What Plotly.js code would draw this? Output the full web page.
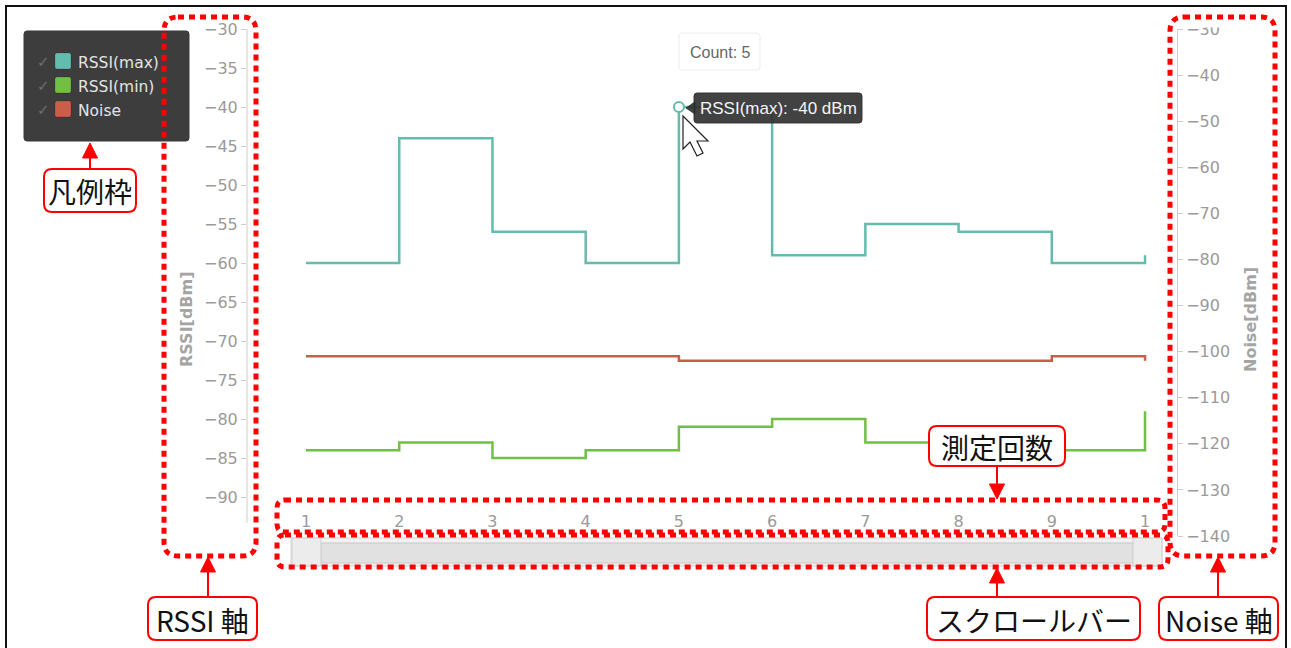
<!DOCTYPE html>
<html>
<head>
<meta charset="utf-8">
<script src="https://cdn.plot.ly/plotly-3.0.1.min.js"></script>
<style>
  html, body { margin: 0; padding: 0; background: #ffffff; }
  #chart { width: 1291px; height: 648px; }
</style>
</head>
<body>
<div id="chart"></div>
<script>
// ---------------- data ----------------
const counts     = [1, 2, 3, 4, 5, 6, 7, 8, 9, 10];
const tickLabels = ['1', '2', '3', '4', '5', '6', '7', '8', '9', '1'];
const rssiMax    = [-60, -44, -56, -60, -40, -59, -55, -56, -60, -59];
const rssiMin    = [-84, -83, -85, -84, -81, -80, -83, -84, -84, -79];
const noise      = [-101, -101, -101, -101, -102, -102, -102, -102, -101, -102];
const rssiTicks  = [-30, -35, -40, -45, -50, -55, -60, -65, -70, -75, -80, -85, -90];
const noiseTicks = [-30, -40, -50, -60, -70, -80, -90, -100, -110, -120, -130, -140];
const seriesNames = ['RSSI(max)', 'RSSI(min)', 'Noise'];
const hoverIndex = 4;
const callouts = ['凡例枠', 'RSSI 軸', '測定回数', 'スクロールバー', 'Noise 軸'];

// ---------------- style ----------------
const colors = ['#64bcae', '#72bf45', '#cc5d48'];
const W = 1291, H = 648;
const L = 247, R = 1177, T = 29, B = 536;
const px = x => (x - L) / (R - L);
const py = y => (B - y) / (B - T);
const P = (x, y) => px(x).toFixed(5) + ',' + py(y).toFixed(5);
function rr(x0, y0, x1, y1, r) {
  return `M${P(x0 + r, y0)} L${P(x1 - r, y0)} Q${P(x1, y0)} ${P(x1, y0 + r)} ` +
         `L${P(x1, y1 - r)} Q${P(x1, y1)} ${P(x1 - r, y1)} L${P(x0 + r, y1)} ` +
         `Q${P(x0, y1)} ${P(x0, y1 - r)} L${P(x0, y0 + r)} Q${P(x0, y0)} ${P(x0 + r, y0)} Z`;
}
function poly(pts) {
  return 'M' + pts.map(p => P(p[0], p[1])).join(' L') + ' Z';
}
function pathShape(path, fill, lineColor, lineWidth, dash) {
  return { type: 'path', xref: 'paper', yref: 'paper', layer: 'above', path: path,
           fillcolor: fill, line: { color: lineColor, width: lineWidth, dash: dash || 'solid' } };
}
function lineShape(x0, y0, x1, y1, color, width) {
  return { type: 'line', xref: 'paper', yref: 'paper', layer: 'above',
           x0: px(x0), y0: py(y0), x1: px(x1), y1: py(y1), line: { color: color, width: width } };
}
function rectShape(x0, y0, x1, y1, fill, lineColor, lineWidth) {
  return { type: 'rect', xref: 'paper', yref: 'paper', layer: 'above',
           x0: px(x0), y0: py(y0), x1: px(x1), y1: py(y1), fillcolor: fill,
           line: { color: lineColor, width: lineWidth } };
}
function ann(x, y, text, font, extra) {
  return Object.assign({ xref: 'paper', yref: 'paper', x: px(x), y: py(y), text: text,
    showarrow: false, xanchor: 'center', yanchor: 'middle', font: font }, extra || {});
}

// ---------------- traces ----------------
const traces = [
  { x: counts, y: rssiMax, xaxis: 'x2', yaxis: 'y2', mode: 'lines', name: seriesNames[0],
    line: { shape: 'hv', color: colors[0], width: 2.5 }, showlegend: false, hoverinfo: 'skip' },
  { x: counts, y: rssiMin, xaxis: 'x2', yaxis: 'y2', mode: 'lines', name: seriesNames[1],
    line: { shape: 'hv', color: colors[1], width: 2.5 }, showlegend: false, hoverinfo: 'skip' },
  { x: counts, y: noise, xaxis: 'x2', yaxis: 'y3', mode: 'lines', name: seriesNames[2],
    line: { shape: 'hv', color: colors[2], width: 2.5 }, showlegend: false, hoverinfo: 'skip' },
  { x: [counts[hoverIndex]], y: [rssiMax[hoverIndex]], xaxis: 'x2', yaxis: 'y2', mode: 'markers',
    marker: { symbol: 'circle', size: 10, color: '#ffffff', line: { color: colors[0], width: 2 } },
    showlegend: false, hoverinfo: 'skip' }
];

// ---------------- shapes ----------------
const shapes = [];
// left RSSI axis line
shapes.push({ type: 'line', xref: 'paper', yref: 'y2', x0: 0, x1: 0, y0: -30, y1: -93.3,
              line: { color: '#cccccc', width: 1 } });
// mask hiding top of the clipped right-axis label
shapes.push(rectShape(1179, 8, 1240, 27.5, '#ffffff', 'rgba(0,0,0,0)', 0));
// legend frame
shapes.push(pathShape(rr(24, 31, 189, 141, 3), '#3d3d3d', '#3a3a3a', 1));
[53, 77, 101].forEach((y, i) => {
  shapes.push(pathShape(rr(55, y, 71, y + 16, 2), colors[i], 'rgba(0,0,0,0.15)', 1));
});
// scrollbar
shapes.push(rectShape(291, 538, 1162, 566, '#f2f2f2', '#d3d3d3', 1));
shapes.push(rectShape(321, 543, 1133, 563, '#e1e1e1', '#c8c8c8', 1));
shapes.push(rectShape(292, 538, 321, 566, '#ececec', '#cfcfcf', 1));
shapes.push(rectShape(1133, 538, 1162, 566, '#ececec', '#cfcfcf', 1));
// tooltips
shapes.push(pathShape(rr(679, 33, 760, 70, 3), '#ffffff', '#ececec', 1));
shapes.push(pathShape(rr(694, 93, 862, 123, 3), 'rgba(45,45,45,0.9)', 'rgba(45,45,45,0.9)', 1));
shapes.push(pathShape(poly([[686, 108], [695, 102], [695, 114]]), 'rgba(45,45,45,0.9)', 'rgba(45,45,45,0.9)', 1));
// mouse cursor
const cx = 683, cy = 116;
shapes.push(pathShape(poly([[0, 0], [0, 33], [7, 26], [14, 40], [20, 37], [14, 25], [25, 25]]
  .map(p => [cx + p[0], cy + p[1]])), '#ffffff', '#222222', 1.2));
// red dotted highlight boxes
const dotted = '6px,5px';
shapes.push(pathShape(rr(164, 17, 256, 556, 14), 'rgba(0,0,0,0)', '#ff0000', 5, dotted));
shapes.push(pathShape(rr(1170, 17, 1275, 556, 14), 'rgba(0,0,0,0)', '#ff0000', 5, dotted));
shapes.push(pathShape(rr(277, 500, 1165, 532, 8), 'rgba(0,0,0,0)', '#ff0000', 5, dotted));
shapes.push(pathShape(rr(277, 535, 1168, 567, 8), 'rgba(0,0,0,0)', '#ff0000', 5, dotted));
// callout boxes
const boxes = [[44, 169, 136, 212], [148, 597, 257, 640], [929, 426, 1065, 466],
               [927, 597, 1140, 640], [1159, 597, 1278, 640]];
boxes.forEach(b => shapes.push(pathShape(rr(b[0], b[1], b[2], b[3], 8), '#ffffff', '#ff0000', 2)));
// arrows
function arrowUp(x, tip, tail) {
  shapes.push(lineShape(x, tail, x, tip + 12, '#ff0000', 2));
  shapes.push(pathShape(poly([[x, tip], [x - 7.5, tip + 15], [x + 7.5, tip + 15]]), '#ff0000', '#ff0000', 1));
}
function arrowDown(x, tip, tail) {
  shapes.push(lineShape(x, tail, x, tip - 12, '#ff0000', 2));
  shapes.push(pathShape(poly([[x, tip], [x - 7.5, tip - 15], [x + 7.5, tip - 15]]), '#ff0000', '#ff0000', 1));
}
arrowUp(90, 143, 169);
arrowUp(208, 557, 597);
arrowDown(997, 499, 466);
arrowUp(997, 568, 597);
arrowUp(1218, 557, 597);
// outer frame
shapes.push(rectShape(6, 6, 1286, 720, 'rgba(0,0,0,0)', '#111111', 2));

// ---------------- annotations ----------------
const tickFont = { family: 'DejaVu Sans, sans-serif', size: 16, color: '#9a9a9a' };
const titleFont = { family: 'DejaVu Sans, sans-serif', size: 16, color: '#a4a4a4' };
const legendFont = { family: 'DejaVu Sans, sans-serif', size: 15.5, color: '#e4e4e4' };
const jpFont = { family: 'Noto Sans CJK JP, sans-serif', size: 28, color: '#111111' };
const annotations = [
  ann(186, 319, '<b>RSSI[dBm]</b>', titleFont, { textangle: -90 }),
  ann(1250, 320, '<b>Noise[dBm]</b>', titleFont, { textangle: -90 })
];
[62, 86, 110].forEach((y, i) => {
  annotations.push(ann(43, y, '✓', { family: 'DejaVu Sans, sans-serif', size: 15, color: '#6e6e6e' }));
  annotations.push(ann(76, y + 1, seriesNames[i], legendFont, { xanchor: 'left' }));
});
annotations.push(ann(720, 52, 'Count: ' + counts[hoverIndex],
  { family: 'Liberation Sans, Arial, sans-serif', size: 16, color: '#666666' }));
annotations.push(ann(778, 108, seriesNames[0] + ': ' + rssiMax[hoverIndex] + ' dBm',
  { family: 'Liberation Sans, Arial, sans-serif', size: 17, color: '#f4f4f4' }));
boxes.forEach((b, i) => {
  annotations.push(ann((b[0] + b[2]) / 2, (b[1] + b[3]) / 2 + 1, callouts[i], jpFont));
});

// ---------------- layout ----------------
const xRange = [0.367, 10.343];
const axisPos = (B - 510) / (B - T);
const layout = {
  width: W, height: H,
  margin: { l: L, r: W - R, t: T, b: H - B, pad: 0 },
  paper_bgcolor: '#ffffff', plot_bgcolor: 'rgba(0,0,0,0)',
  showlegend: false, hovermode: false,
  xaxis: { domain: [0, 1], range: xRange, anchor: 'y', tickvals: counts, showticklabels: false,
           ticks: '', showgrid: true, gridcolor: '#d2d2d2', griddash: '2px,2px', gridwidth: 1,
           zeroline: false, showline: false, fixedrange: true },
  yaxis: { domain: [axisPos, 1], range: [0, 1], anchor: 'x', visible: false, fixedrange: true },
  xaxis2: { domain: [0, 1], range: xRange, anchor: 'free', position: axisPos,
            tickvals: counts, ticktext: tickLabels, ticks: '', showgrid: false, zeroline: false,
            showline: false, tickfont: tickFont, fixedrange: true },
  yaxis2: { domain: [0, 1], range: [-95, -30], anchor: 'x2', side: 'left', tickvals: rssiTicks,
            ticks: 'outside', ticklen: 5, tickcolor: '#cccccc', showgrid: false, zeroline: false,
            showline: false, tickfont: tickFont, fixedrange: true },
  yaxis3: { range: [-140, -30], overlaying: 'y2', anchor: 'x2', side: 'right', tickvals: noiseTicks,
            ticks: 'outside', ticklen: 5, tickcolor: '#cccccc', showgrid: false, zeroline: false,
            showline: true, linecolor: '#cccccc', linewidth: 1, tickfont: tickFont, fixedrange: true },
  shapes: shapes,
  annotations: annotations
};

Plotly.newPlot('chart', traces, layout, { displayModeBar: false, staticPlot: true });
</script>
</body>
</html>
